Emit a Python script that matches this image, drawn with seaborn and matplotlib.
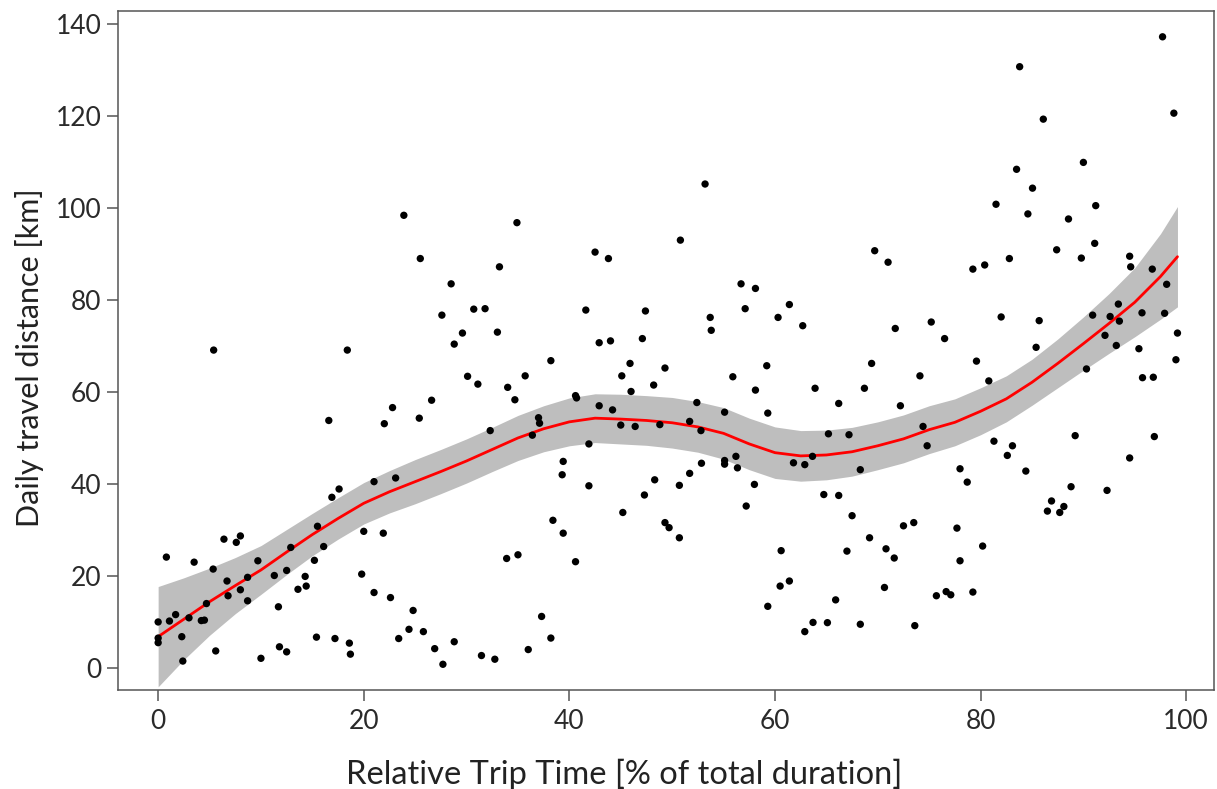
import numpy as np
import pandas as pd
import seaborn as sns
import matplotlib.pyplot as plt

# === Data ===
trip_time = [
    # 0-25 %
    5.4, 18.4, 16.6, 22.8, 22.0, 21.0, 23.1, 16.9, 17.6, 15.5, 20.0, 21.9, 16.1, 12.9, 15.2,
    6.4, 7.6, 8.0, 0.8, 3.5, 5.35, 9.7, 6.7, 8.7, 11.3, 12.5, 14.3, 14.4, 13.6, 8.0,
    6.8, 4.7, 8.7, 11.7, 19.8, 21.0, 22.6, 0.0, 1.1, 1.7, 3.0, 4.2, 4.5, 0.0, 0.0,
    2.3, 2.4, 5.6, 10.0, 11.8, 12.5, 15.4, 17.2, 18.6, 18.7, 23.4, 24.4,
    # upper band 24-51 %
    23.9, 34.9, 25.5, 50.8, 42.5, 43.8, 33.2, 28.5, 27.6, 30.7, 31.8, 29.6, 33.0, 28.8,
    41.6, 47.4, 42.9, 44.0, 47.1,
    # upper band 51-77 %
    53.2, 69.7, 71.0, 56.7, 58.1, 57.1, 61.4, 53.7, 53.8, 60.3, 62.7, 71.7, 75.2, 76.5,
    # upper band 77-100 %
    97.7, 83.8, 98.8, 86.1, 90.0, 83.5, 85.05, 81.5, 84.6, 88.55, 91.2, 91.1, 87.4, 89.8,
    94.5, 94.6, 96.7, 82.8, 79.25, 80.4, 98.1, 93.4, 90.9, 92.6, 93.5, 95.7, 97.9, 82.0,
    85.7, 99.15, 92.1, 93.2, 85.4, 95.4,
    # lower band 24-51 %
    38.2, 45.9, 45.1, 49.3, 30.1, 31.1, 35.7, 34.0, 34.7, 26.6, 25.4, 48.2, 46.0, 40.6,
    40.7, 42.9, 44.2, 37.0, 37.1, 36.4, 32.3, 45.0, 46.4, 48.8, 41.9, 39.4, 39.3, 41.9,
    48.3, 50.7, 47.3, 45.2, 38.4, 39.4, 49.3, 49.7, 50.7, 40.6, 33.9, 35.0, 24.8, 25.8,
    26.9, 27.7, 28.8, 31.45, 32.75, 36.0, 37.3, 38.2,
    # lower band 51-77 %
    59.2, 55.9, 58.1, 69.4, 74.1, 63.9, 68.7, 66.2, 72.2, 52.4, 55.1, 59.3, 51.7, 52.8,
    65.2, 67.2, 74.4, 74.8, 56.2, 55.1, 55.1, 56.35, 52.85, 51.7, 61.8, 62.9, 63.65, 68.3,
    58.0, 57.2, 64.75, 66.2, 67.5, 72.5, 73.5, 69.2, 60.6, 67.0, 70.8, 71.6, 60.5, 61.4,
    70.65, 75.7, 76.65, 59.3, 65.9, 63.7, 65.1, 62.9, 68.3, 73.6,
    # lower band 77-100 %
    79.6, 80.8, 99.0, 90.3, 95.75, 96.8, 89.2, 96.9, 81.3, 83.1, 82.6, 94.5, 78.0, 78.7,
    84.4, 88.8, 92.3, 86.9, 88.1, 86.5, 87.7, 77.7, 80.2, 78.0, 77.1, 79.25,
]
distance = [
    69.1, 69.1, 53.8, 56.6, 53.1, 40.5, 41.3, 37.1, 38.9, 30.8, 29.7, 29.3, 26.4, 26.2, 23.4,
    28.0, 27.3, 28.7, 24.1, 23.0, 21.5, 23.3, 18.9, 19.7, 20.1, 21.2, 19.9, 17.8, 17.1, 17.0,
    15.7, 14.0, 14.6, 13.3, 20.4, 16.4, 15.3, 10.0, 10.2, 11.6, 10.9, 10.3, 10.4, 6.5, 5.5,
    6.8, 1.5, 3.7, 2.1, 4.6, 3.5, 6.7, 6.4, 5.4, 3.0, 6.4, 8.4,
    98.4, 96.8, 89.0, 93.0, 90.4, 89.0, 87.2, 83.5, 76.7, 78.0, 78.1, 72.8, 73.0, 70.4,
    77.8, 77.6, 70.7, 71.1, 71.6,
    105.2, 90.7, 88.2, 83.5, 82.5, 78.1, 79.0, 76.2, 73.4, 76.2, 74.4, 73.8, 75.2, 71.6,
    137.2, 130.7, 120.6, 119.3, 109.9, 108.4, 104.3, 100.8, 98.7, 97.6, 100.5, 92.3, 90.9, 89.1,
    89.5, 87.2, 86.7, 89.0, 86.7, 87.6, 83.4, 79.1, 76.7, 76.4, 75.4, 77.2, 77.1, 76.3,
    75.5, 72.8, 72.3, 70.1, 69.7, 69.4,
    66.8, 66.2, 63.5, 65.2, 63.4, 61.7, 63.5, 61.0, 58.3, 58.2, 54.3, 61.5, 60.1, 59.2,
    58.7, 57.0, 56.1, 54.4, 53.2, 50.6, 51.6, 52.8, 52.5, 52.9, 48.7, 44.9, 42.0, 39.6,
    40.9, 39.7, 37.6, 33.8, 32.1, 29.3, 31.6, 30.5, 28.3, 23.1, 23.8, 24.6, 12.5, 7.9,
    4.2, 0.8, 5.7, 2.7, 1.9, 4.0, 11.2, 6.5,
    65.7, 63.3, 60.4, 66.2, 63.5, 60.8, 60.8, 57.5, 57.0, 57.7, 55.6, 55.4, 53.6, 51.6,
    50.9, 50.7, 52.5, 48.3, 46.0, 45.1, 44.3, 43.5, 44.5, 42.3, 44.6, 44.2, 46.0, 43.1,
    39.9, 35.2, 37.7, 37.5, 33.1, 30.9, 31.6, 28.3, 25.5, 25.4, 25.9, 23.9, 17.8, 18.9,
    17.5, 15.7, 16.6, 13.4, 14.8, 9.9, 9.85, 7.9, 9.5, 9.2,
    66.7, 62.4, 67.0, 65.0, 63.1, 63.2, 50.5, 50.3, 49.3, 48.3, 46.2, 45.65, 43.3, 40.4,
    42.8, 39.4, 38.6, 36.3, 35.1, 34.1, 33.8, 30.4, 26.5, 23.3, 15.9, 16.5,
]

# smoothed trend and its confidence band
fit_x = [0, 2.5, 5, 7.5, 10, 12.5, 15, 17.5, 20, 22.5, 25, 27.5, 30, 32.5, 35, 37.5, 40, 42.5, 45,
         47.5, 50, 52.5, 55, 57.5, 60, 62.5, 65, 67.5, 70, 72.5, 75, 77.5, 80, 82.5, 85, 87.5,
         90, 92.5, 95, 97.5, 99.15]
fit_y = [6.8, 10.6, 14.4, 17.9, 21.3, 25.2, 29.0, 32.5, 35.8, 38.3, 40.5, 42.7, 45.0, 47.5, 50.0,
         52.0, 53.5, 54.3, 54.1, 53.8, 53.3, 52.4, 51.0, 48.7, 46.8, 46.1, 46.3, 47.0, 48.3, 49.8,
         51.8, 53.4, 55.8, 58.5, 62.1, 66.2, 70.5, 74.9, 79.5, 85.1, 89.4]
ci_lo = [-4.1, 1.8, 7.1, 11.8, 16.0, 20.3, 24.4, 28.0, 31.3, 33.7, 35.7, 37.9, 40.2, 42.7, 45.1,
         47.0, 48.3, 49.0, 48.7, 48.4, 47.8, 46.9, 45.4, 43.1, 41.2, 40.6, 40.9, 41.7, 43.1, 44.6,
         46.6, 48.3, 50.7, 53.5, 57.1, 60.9, 64.7, 68.4, 72.0, 75.8, 78.5]
ci_hi = [17.7, 19.6, 21.7, 24.0, 26.6, 30.1, 33.6, 37.0, 40.3, 42.9, 45.3, 47.5, 49.8, 52.3, 54.9,
         57.0, 58.7, 59.6, 59.5, 59.2, 58.8, 57.9, 56.6, 54.3, 52.4, 51.6, 51.7, 52.3, 53.5, 55.0,
         57.0, 58.5, 60.9, 63.5, 67.1, 71.5, 76.3, 81.4, 87.0, 94.4, 100.3]

x_ticks = [0, 20, 40, 60, 80, 100]
y_ticks = [0, 20, 40, 60, 80, 100, 120, 140]

# === Plot ===
sns.set_style("ticks")
plt.rcParams["font.family"] = ["Lato", "DejaVu Sans"]

df = pd.DataFrame({"time": trip_time, "dist": distance})

fig = plt.figure(figsize=(12.17, 7.89), dpi=100)
ax = fig.add_axes([0.097, 0.126, 0.9005, 0.86])

ax.fill_between(fit_x, ci_lo, ci_hi, color="#bebebe", linewidth=0, zorder=1)
sns.lineplot(x=fit_x, y=fit_y, color="red", linewidth=2, estimator=None, sort=False, ax=ax, zorder=2)
sns.scatterplot(data=df, x="time", y="dist", color="black", s=28, edgecolor="none", ax=ax, zorder=3)

ax.set_xlim(-3.9, 102.7)
ax.set_ylim(-4.7, 142.8)
ax.set_xticks(x_ticks)
ax.set_yticks(y_ticks)
ax.tick_params(axis="both", direction="out", length=8, width=1.1, color="#555555",
               labelsize=19, labelcolor="#2a2a2a")
ax.tick_params(axis="x", pad=6)
ax.tick_params(axis="y", pad=4)

for side in ["left", "right", "top", "bottom"]:
    ax.spines[side].set_visible(True)
    ax.spines[side].set_color("#555555")
    ax.spines[side].set_linewidth(1.1)

ax.set_xlabel("Relative Trip Time [% of total duration]", fontsize=23.5, color="#222222")
ax.set_ylabel("Daily travel distance [km]", fontsize=22, color="#222222")
ax.xaxis.set_label_coords(0.462, -0.102)
ax.yaxis.set_label_coords(-0.068, 0.489)

fig.savefig("out.png", dpi=100)
plt.close(fig)
